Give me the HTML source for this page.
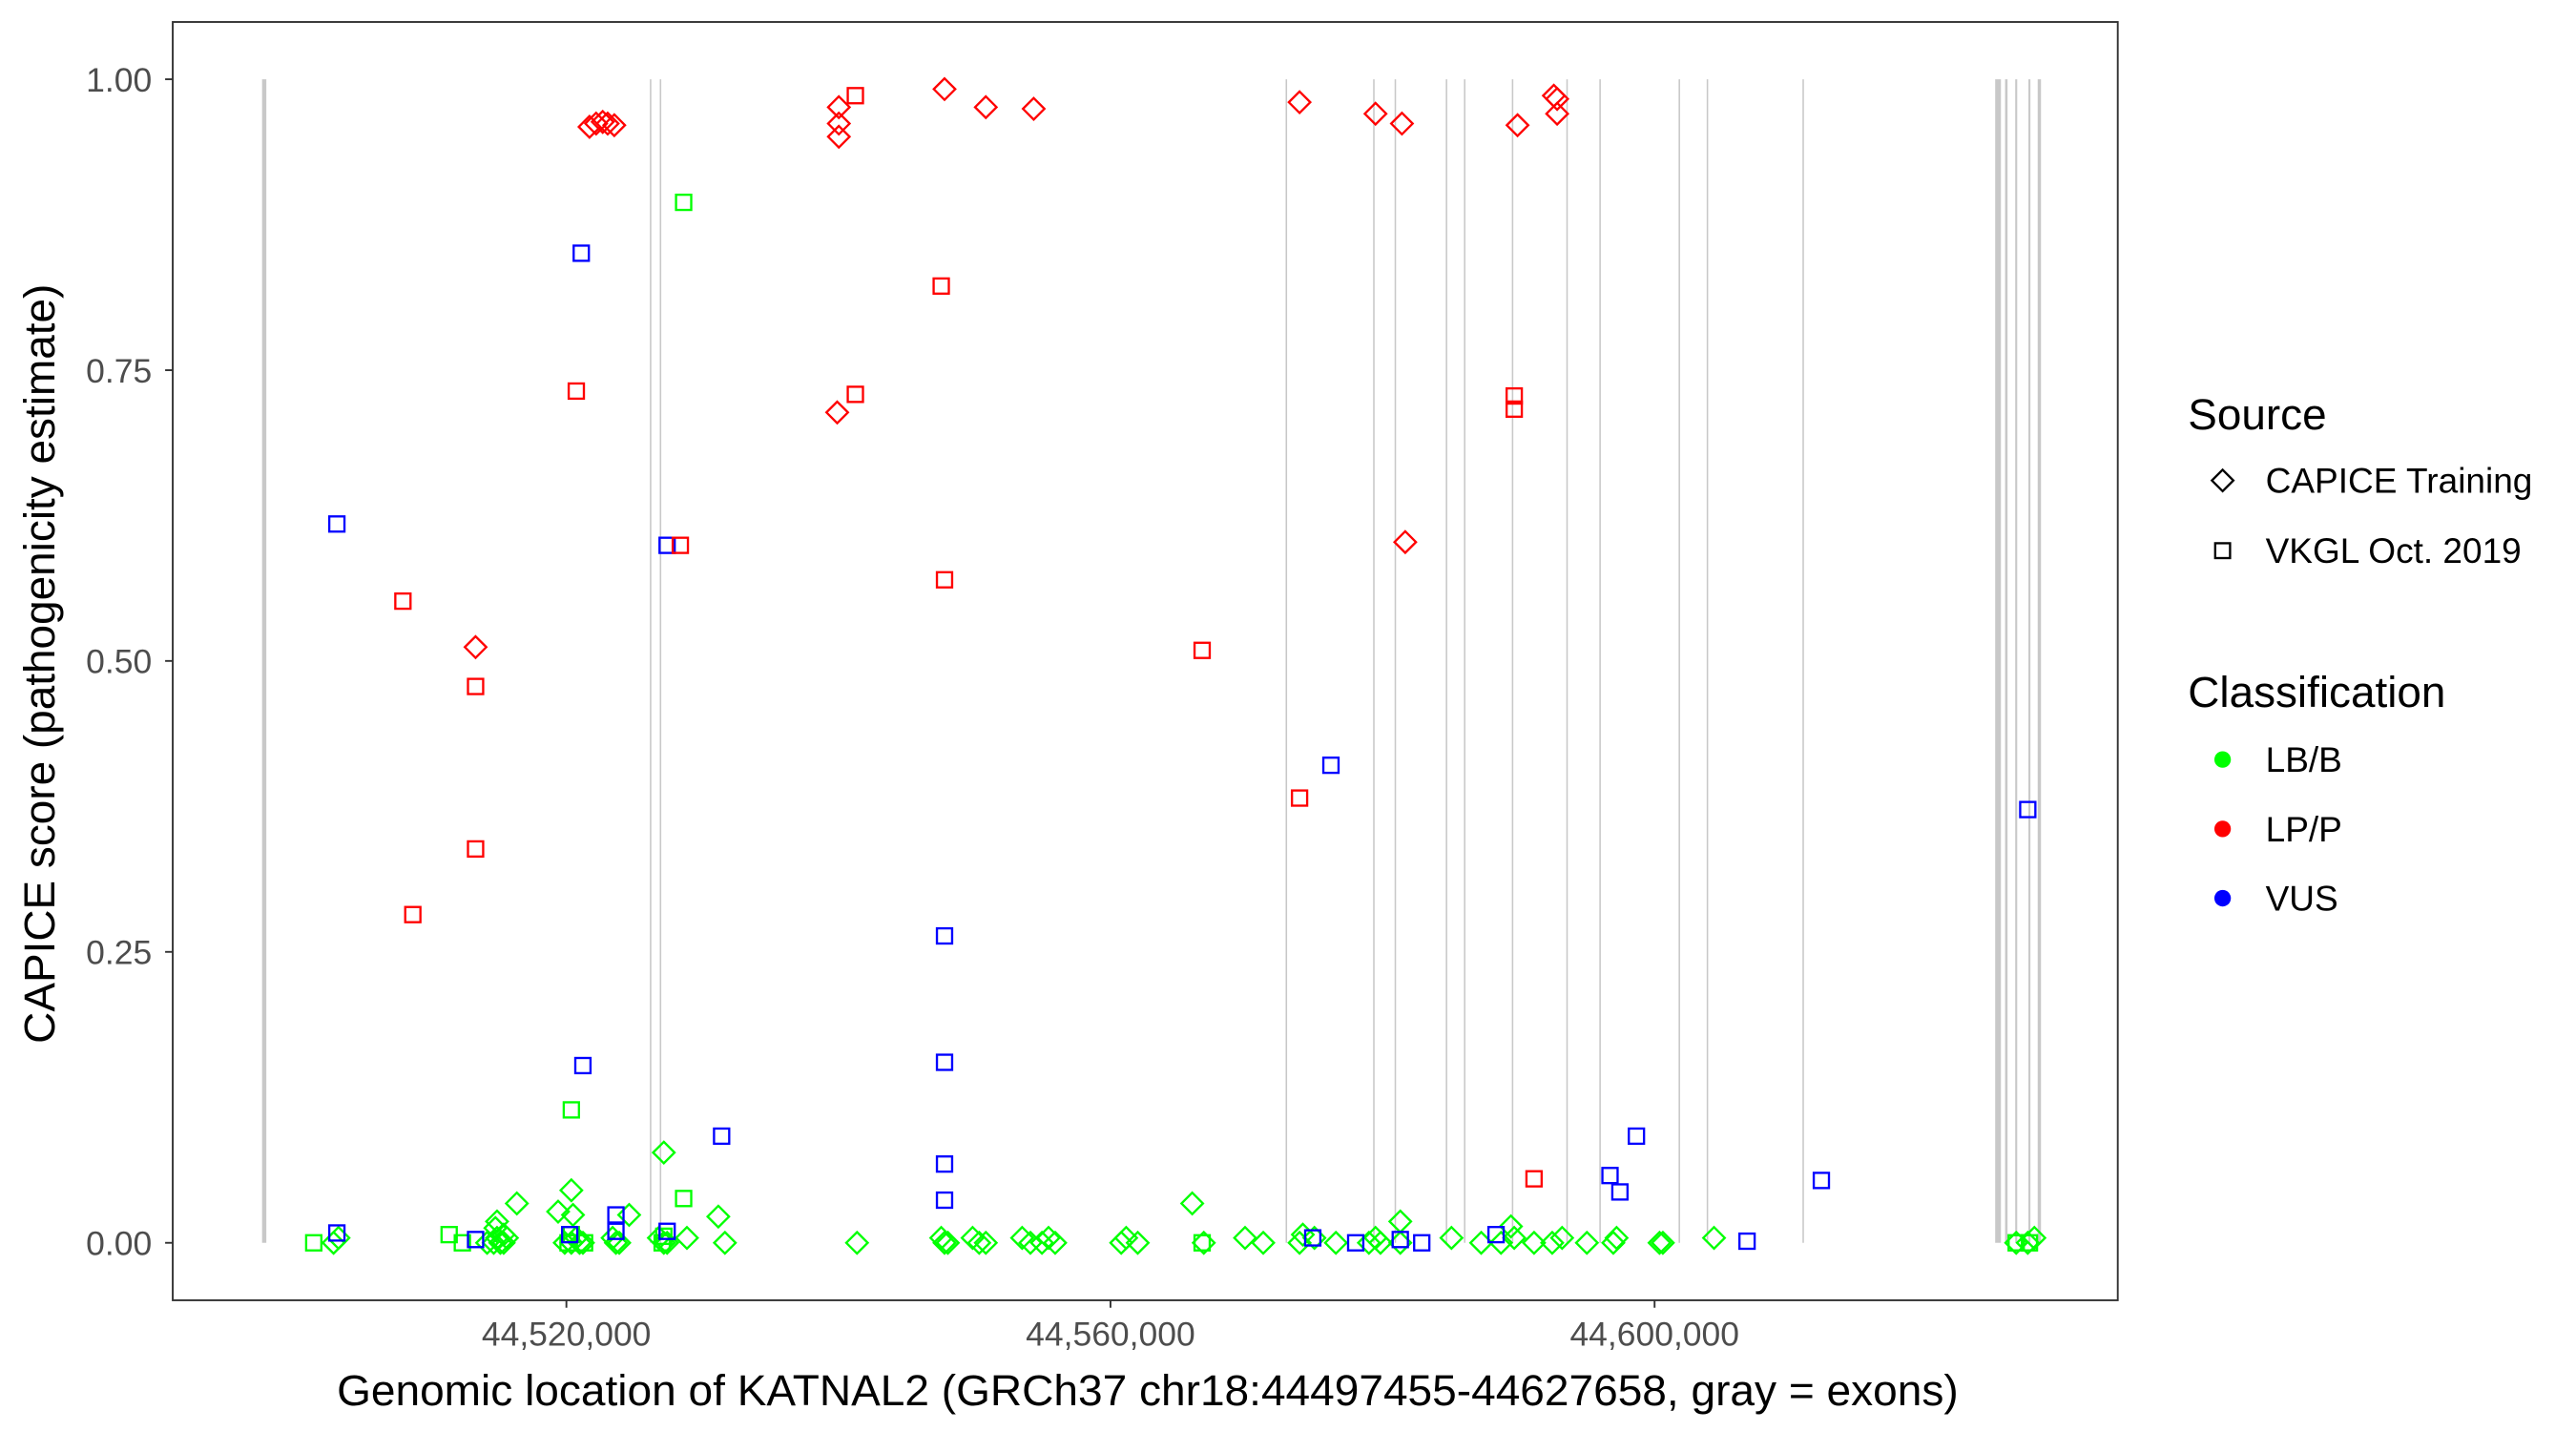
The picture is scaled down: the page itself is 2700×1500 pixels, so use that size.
<!DOCTYPE html>
<html><head><meta charset="utf-8"><style>
html,body{margin:0;padding:0;background:#fff;}
svg{display:block;}
text{font-family:"Liberation Sans",Arial,sans-serif;}
</style></head><body>
<svg id="s" width="2700" height="1500" viewBox="0 0 1560 866.67" xmlns="http://www.w3.org/2000/svg">
<rect x="0" y="0" width="1560" height="866.67" fill="#fff"/>
<g id="ex"></g>
<g id="pts" fill="none" stroke-width="1.35"></g>
<rect x="104.6" y="13.3" width="1177.9" height="774.2" fill="none" stroke="#333" stroke-width="1.1"/>
<g stroke="#333" stroke-width="1.1">
<line x1="100" y1="48" x2="104.6" y2="48"/><line x1="100" y1="224.2" x2="104.6" y2="224.2"/>
<line x1="100" y1="400.3" x2="104.6" y2="400.3"/><line x1="100" y1="576.5" x2="104.6" y2="576.5"/>
<line x1="100" y1="752.7" x2="104.6" y2="752.7"/>
<line x1="343" y1="787.5" x2="343" y2="792"/><line x1="672.5" y1="787.5" x2="672.5" y2="792"/><line x1="1002" y1="787.5" x2="1002" y2="792"/>
</g>
<g fill="#4d4d4d" font-size="20.5" text-anchor="end">
<text x="92" y="55.4">1.00</text><text x="92" y="231.6">0.75</text><text x="92" y="407.7">0.50</text>
<text x="92" y="583.9">0.25</text><text x="92" y="760.1">0.00</text>
</g>
<g fill="#4d4d4d" font-size="20.5" text-anchor="middle">
<text x="343" y="815">44,520,000</text><text x="672.5" y="815">44,560,000</text><text x="1002" y="815">44,600,000</text>
</g>
<text x="695" y="851" font-size="26.5" text-anchor="middle" textLength="982" lengthAdjust="spacingAndGlyphs">Genomic location of KATNAL2 (GRCh37 chr18:44497455-44627658, gray = exons)</text>
<text transform="translate(33,402) rotate(-90)" font-size="26.5" text-anchor="middle" textLength="460" lengthAdjust="spacingAndGlyphs">CAPICE score (pathogenicity estimate)</text>
<g transform="translate(-7,0)">
<text x="1332" y="260" font-size="26.5">Source</text>
<path d="M1353,284.5 L1359.5,291 L1353,297.5 L1346.5,291 Z" fill="none" stroke="#000" stroke-width="1.35"/>
<text x="1379" y="298.5" font-size="21.4">CAPICE Training</text>
<rect x="1348.5" y="329" width="9" height="9" fill="none" stroke="#000" stroke-width="1.35"/>
<text x="1379" y="341" font-size="21.4">VKGL Oct. 2019</text>
<text x="1332" y="428" font-size="26.5">Classification</text>
<circle cx="1353" cy="460" r="5" fill="#00ff00"/><text x="1379" y="467.5" font-size="21.4">LB/B</text>
<circle cx="1353" cy="502" r="5" fill="#ff0000"/><text x="1379" y="509.5" font-size="21.4">LP/P</text>
<circle cx="1353" cy="544" r="5" fill="#0000ff"/><text x="1379" y="551.5" font-size="21.4">VUS</text>
</g>
</svg>
<script>
var NS="http://www.w3.org/2000/svg";
var ex=document.getElementById("ex"),pts=document.getElementById("pts");
function ln(x,w){var l=document.createElementNS(NS,"line");l.setAttribute("x1",x);l.setAttribute("x2",x);l.setAttribute("y1",48);l.setAttribute("y2",752.7);l.setAttribute("stroke","#c8c8c8");l.setAttribute("stroke-width",w);ex.appendChild(l);}
ln(160,2.6);ln(394,0.9);ln(400,0.9);
[779,832,845,876,887,916,949,969,1017,1034,1092].forEach(function(x){ln(x,0.9);});
ln(1210,3.5);ln(1215,1.5);ln(1221,1.2);ln(1229,1.2);ln(1235,2);
function Y(yr){var v=(757-yr)/709;return 752.7-v*704.7;}
function X(xr){return xr-1;}
var C={r:"#ff0000",g:"#00ff00",b:"#0000ff"};
function sq(c,x,y){var r=document.createElementNS(NS,"rect");r.setAttribute("x",X(x)-4.6);r.setAttribute("y",Y(y)-4.6);r.setAttribute("width",9.2);r.setAttribute("height",9.2);r.setAttribute("stroke",C[c]);pts.appendChild(r);}
function di(c,x,y){var p=document.createElementNS(NS,"path");var a=X(x),b=Y(y),h=6.5;p.setAttribute("d","M"+a+","+(b-h)+" L"+(a+h)+","+b+" L"+a+","+(b+h)+" L"+(a-h)+","+b+" Z");p.setAttribute("stroke",C[c]);pts.appendChild(p);}
[203,206,296,300,302,304,306,308,343,347,350,352,354,372,374,376,400,403,405,417,440,520,571,573,575,590,594,598,620,625,632,636,640,680,683,690,730,755,766,788,797,810,830,834,837,849,880,898,910,918,930,941,947,962,978,980,1006,1008,1039,1222,1229,1233].forEach(function(x,i){di("g",x,757-(i%3==1?3:0));});
[[403,702],[347,725],[339,738],[348,740],[382,740],[314,733],[302,744],[301,748],[436,741],[723,733],[849,744],[916,747],[306,752],[790,752]].forEach(function(p){di("g",p[0],p[1]);});
[[415,123],[347,676],[415,730],[191,757],[273,752],[281,757],[355,757],[345,757],[347,752],[729,757],[1222,757],[1230,757],[402,757],[403,753]].forEach(function(p){sq("g",p[0],p[1]);});
[[205,319],[353,154],[405,332],[807,466],[354,649],[573,570],[573,647],[573,709],[573,731],[438,692],[1229,493],[992,692],[976,716],[982,726],[1104,719],[374,740],[374,750],[346,752],[405,750],[289,755],[205,751],[796,754],[822,757],[849,755],[862,757],[907,752],[1059,756]].forEach(function(p){sq("b",p[0],p[1]);});
[[519,58],[571,174],[350,238],[519,240],[245,366],[413,332],[573,353],[289,418],[289,517],[251,557],[729,396],[788,486],[918,241],[918,249],[930,718]].forEach(function(p){sq("r",p[0],p[1]);});
[[358,77],[362,75],[366,74],[369,75],[373,76],[509,65],[509,75],[509,83],[573,54],[598,65],[627,66],[788,62],[834,69],[850,75],[920,76],[942,58],[944,60],[944,69],[508,251],[289,394],[852,330]].forEach(function(p){di("r",p[0],p[1]);});
</script>
</body></html>
